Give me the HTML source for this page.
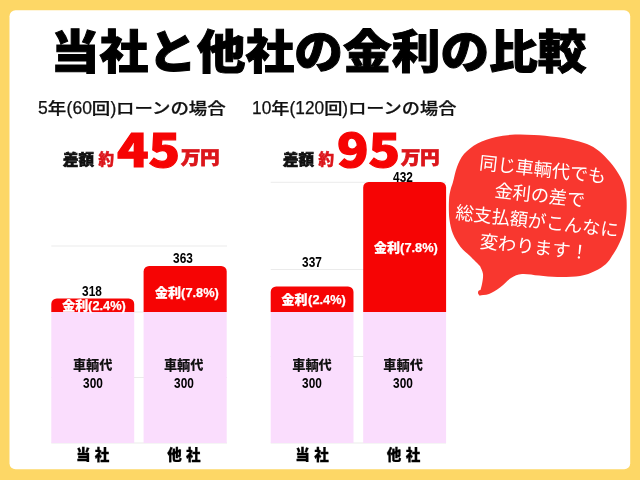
<!DOCTYPE html>
<html lang="ja">
<head>
<meta charset="utf-8">
<title>当社と他社の金利の比較</title>
<style>
html,body{margin:0;padding:0;}
body{width:640px;height:480px;overflow:hidden;background:#fdd766;position:relative;font-family:"Liberation Sans","Noto Sans CJK JP",sans-serif;}
.panel{position:absolute;left:10px;top:10px;width:620px;height:459px;background:#fff;border-radius:6px;}
.abs{position:absolute;white-space:nowrap;line-height:1;}
.jp{font-family:"Noto Sans CJK JP","Liberation Sans",sans-serif;}
.title{left:0;width:640px;top:25.1px;text-align:center;font-size:46px;font-weight:900;color:#000;-webkit-text-stroke:1px #000;transform:translateX(-1.4px) scaleX(1.059);}
.sub{font-family:"Liberation Sans","Noto Sans CJK JP",sans-serif;font-size:15.5px;font-weight:500;color:#111;-webkit-text-stroke:0.25px #111;transform:scaleX(1.19);transform-origin:0 50%;}
.sub .d{display:inline-block;font-size:18px;transform:scaleX(0.82);transform-origin:0 50%;}
.c{transform:translateX(-50%);text-align:center;}
.lbl{color:#fff;font-weight:900;font-size:13px;-webkit-text-stroke:0.25px #fff;}
.lbl b{display:inline-block;font-family:"Liberation Sans",sans-serif;font-weight:700;font-size:13.5px;transform:scaleX(0.95);transform-origin:0 50%;margin-right:-2px;}
.num{font-size:15px;font-weight:700;color:#000;font-family:"Liberation Sans",sans-serif;transform:translateX(-50%) scaleX(0.79);}
.car{font-size:13.2px;font-weight:900;color:#111;}
.axis{font-size:14.5px;font-weight:900;color:#000;-webkit-text-stroke:0.3px #000;word-spacing:1px;}
.dk{font-size:15px;font-weight:900;color:#111;-webkit-text-stroke:0.7px #111;transform:scaleX(1.03);transform-origin:0 50%;}
.rd{font-size:17px;font-weight:900;color:#dc161b;-webkit-text-stroke:0.5px #dc161b;}
.big{font-size:45.5px;font-weight:900;color:#f60404;-webkit-text-stroke:1.2px #f60404;transform:scaleX(1.14);transform-origin:0 50%;}
svg{position:absolute;left:0;top:0;}
</style>
</head>
<body>

<svg width="640" height="480" viewBox="0 0 640 480">
  <rect x="9.5" y="10.2" width="620.7" height="459" rx="6" ry="6" fill="#fff"/>
  <!-- gridlines -->
  <g stroke="#ebebeb" stroke-width="1">
    <line x1="51.3" x2="227" y1="246" y2="246"/>
    <line x1="51.3" x2="227" y1="312" y2="312"/>
    <line x1="51.3" x2="227" y1="377.5" y2="377.5"/>
    <line x1="51.3" x2="227" y1="443" y2="443"/>
    <line x1="270.7" x2="446" y1="182.3" y2="182.3"/>
    <line x1="270.7" x2="446" y1="269.5" y2="269.5"/>
    <line x1="270.7" x2="446" y1="356.5" y2="356.5"/>
    <line x1="270.7" x2="446" y1="443" y2="443"/>
  </g>
  <!-- chart 1 -->
  <rect x="51.3" y="312" width="82.9" height="131" fill="#faddfd"/>
  <path d="M51.3 312 V304 a5.5 5.5 0 0 1 5.5 -5.5 H128.7 a5.5 5.5 0 0 1 5.5 5.5 V312 Z" fill="#f60404"/>
  <rect x="143.6" y="312" width="83.1" height="131" fill="#faddfd"/>
  <path d="M143.6 312 V271.5 a5.5 5.5 0 0 1 5.5 -5.5 H221.2 a5.5 5.5 0 0 1 5.5 5.5 V312 Z" fill="#f60404"/>
  <!-- chart 2 -->
  <rect x="270.7" y="312" width="82.8" height="131" fill="#faddfd"/>
  <path d="M270.7 312 V292 a5.5 5.5 0 0 1 5.5 -5.5 H348 a5.5 5.5 0 0 1 5.5 5.5 V312 Z" fill="#f60404"/>
  <rect x="363.2" y="312" width="82.9" height="131" fill="#faddfd"/>
  <path d="M363.2 312 V187.5 a5.5 5.5 0 0 1 5.5 -5.5 H440.6 a5.5 5.5 0 0 1 5.5 5.5 V312 Z" fill="#f60404"/>
  <!-- bubble -->
  <path d="M496.0 137.0 C502.2 135.5 508.7 134.9 515.0 134.6 C521.3 134.3 527.2 134.6 534.0 135.0 C540.8 135.4 549.8 136.2 556.0 137.0 C562.2 137.8 565.8 138.3 571.0 139.5 C576.2 140.7 582.3 142.1 587.0 144.0 C591.7 145.9 595.2 148.0 599.0 151.0 C602.8 154.0 606.8 158.3 610.0 162.0 C613.2 165.7 615.8 169.6 618.0 173.0 C620.2 176.4 621.7 178.8 623.0 182.5 C624.3 186.2 625.4 191.2 626.0 195.0 C626.6 198.8 626.7 201.2 626.7 205.0 C626.7 208.8 626.6 213.2 626.0 218.0 C625.4 222.8 624.3 229.3 623.0 234.0 C621.7 238.7 619.8 242.3 618.0 246.0 C616.2 249.7 614.0 253.0 612.0 256.0 C610.0 259.0 608.8 261.5 606.0 264.0 C603.2 266.5 599.3 269.0 595.0 271.0 C590.7 273.0 586.2 275.0 580.0 276.0 C573.8 277.0 564.3 277.1 557.5 277.0 C550.7 276.9 544.9 276.0 539.0 275.5 C533.1 275.0 526.7 273.6 522.0 274.0 C517.3 274.4 514.7 275.8 511.0 278.0 C507.3 280.2 503.7 284.8 500.0 287.5 C496.3 290.2 492.5 292.7 489.0 294.0 C485.5 295.3 481.0 295.2 479.0 295.5 C479.6 293.2 481.3 287.6 482.0 284.0 C482.7 280.4 483.3 277.0 483.0 274.0 C482.7 271.0 480.6 267.6 480.0 266.0 C478.0 264.0 473.2 259.2 470.0 256.0 C466.8 252.8 463.4 250.7 460.6 247.0 C457.8 243.3 454.9 238.7 453.0 234.0 C451.1 229.3 450.1 224.7 449.4 219.0 C448.7 213.3 448.8 204.8 449.0 200.0 C449.2 195.2 449.8 193.0 450.5 190.0 C451.2 187.0 451.9 185.8 453.0 182.0 C454.1 178.2 455.2 171.7 457.0 167.0 C458.8 162.3 460.6 157.9 464.0 154.0 C467.4 150.1 472.2 146.2 477.5 143.4 C482.8 140.6 489.8 138.5 496.0 137.0 Z" fill="#f8372f"/>
  <circle cx="480.6" cy="292.6" r="2.6" fill="#f8372f"/>
  <g transform="rotate(6.3 538.6 207.8)" fill="#fff" font-family="'Noto Sans CJK JP','Liberation Sans',sans-serif" font-weight="400" font-size="18.2" text-anchor="middle">
    <text x="538.6" y="175.8">同じ車輌代でも</text>
    <text x="538.6" y="201.8">金利の差で</text>
    <text x="538.6" y="227.8">総支払額がこんなに</text>
    <text x="538.6" y="253.8">変わります！</text>
  </g>
</svg>

<div class="abs jp title">当社と他社の金利の比較</div>

<div class="abs sub" style="left:37.6px;top:99.3px;"><span class="d" style="margin-right:-0.100em">5</span>年<span class="d" style="margin-right:-0.260em">(60</span>回<span class="d" style="margin-right:-0.060em">)</span>ローンの場合</div>
<div class="abs sub" style="left:251.6px;top:99.3px;transform:scaleX(1.173);"><span class="d" style="margin-right:-0.200em">10</span>年<span class="d" style="margin-right:-0.360em">(120</span>回<span class="d" style="margin-right:-0.060em">)</span>ローンの場合</div>

<!-- diff labels -->
<div class="abs jp dk" style="left:63.2px;top:150.8px;">差額</div>
<div class="abs jp rd" style="left:98.5px;top:150.6px;font-size:15.5px;">約</div>
<div class="abs jp big" style="left:117px;top:125px;">45</div>
<div class="abs jp rd" style="left:181px;top:146.8px;font-size:18px;-webkit-text-stroke-width:0.8px;transform:scaleX(1.07);transform-origin:0 50%;">万円</div>

<div class="abs jp dk" style="left:283.2px;top:150.8px;">差額</div>
<div class="abs jp rd" style="left:318.5px;top:150.6px;font-size:15.5px;">約</div>
<div class="abs jp big" style="left:337px;top:125px;">95</div>
<div class="abs jp rd" style="left:401px;top:146.8px;font-size:18px;-webkit-text-stroke-width:0.8px;transform:scaleX(1.07);transform-origin:0 50%;">万円</div>

<!-- numbers -->
<div class="abs num" style="left:92.2px;top:283px;">318</div>
<div class="abs num" style="left:183.4px;top:250px;">363</div>
<div class="abs num" style="left:311.6px;top:254px;">337</div>
<div class="abs num" style="left:402.9px;top:168.5px;">432</div>

<!-- interest labels -->
<div class="abs jp lbl c" style="left:94.2px;top:298px;">金利<b>(2.4%)</b></div>
<div class="abs jp lbl c" style="left:186.9px;top:285px;">金利<b>(7.8%)</b></div>
<div class="abs jp lbl c" style="left:313.5px;top:292px;">金利<b>(2.4%)</b></div>
<div class="abs jp lbl c" style="left:406px;top:239.7px;">金利<b>(7.8%)</b></div>

<!-- car price labels -->
<div class="abs jp car c" style="left:92.7px;top:357.5px;">車輌代</div>
<div class="abs num" style="left:93px;top:375px;">300</div>
<div class="abs jp car c" style="left:183.7px;top:357.5px;">車輌代</div>
<div class="abs num" style="left:183.6px;top:375px;">300</div>
<div class="abs jp car c" style="left:312px;top:357.5px;">車輌代</div>
<div class="abs num" style="left:312px;top:375px;">300</div>
<div class="abs jp car c" style="left:403.1px;top:357.5px;">車輌代</div>
<div class="abs num" style="left:403.4px;top:375px;">300</div>

<!-- axis -->
<div class="abs jp axis c" style="left:92.7px;top:447px;">当 社</div>
<div class="abs jp axis c" style="left:183.8px;top:447px;">他 社</div>
<div class="abs jp axis c" style="left:312px;top:447px;">当 社</div>
<div class="abs jp axis c" style="left:403.5px;top:447px;">他 社</div>
</body>
</html>
